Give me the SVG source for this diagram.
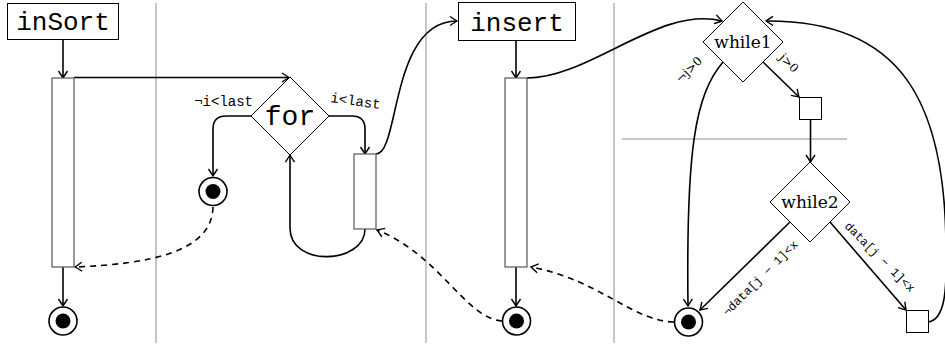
<svg xmlns="http://www.w3.org/2000/svg" width="945" height="345" viewBox="0 0 945 345">
  <style>
    .lane { stroke: #c6c6c6; stroke-width: 2; fill: none; }
    .node { fill: #fff; stroke: #000; stroke-width: 1; }
    .bar { fill: #fff; stroke: #555; stroke-width: 1.2; }
    .conn { fill: none; stroke: #000; stroke-width: 1.6; marker-end: url(#tip); }
    .dash { stroke-dasharray: 6 5; }
    .ring { fill: #fff; stroke: #000; stroke-width: 1.6; }
    .dot { fill: #000; }
    .tt { font-family: "Liberation Mono", "DejaVu Sans Mono", monospace; fill: #000; }
    .rm { font-family: "DejaVu Serif", "Liberation Serif", serif; fill: #000; }
    .title { font-size: 26px; text-anchor: middle; }
    .lbl { font-size: 14px; }
    .small { font-size: 12px; text-anchor: middle; }
  </style>
  <defs>
    <marker id="tip" viewBox="-9 -6 11 12" refX="0" refY="0" markerWidth="11" markerHeight="12" markerUnits="userSpaceOnUse" orient="auto">
      <path d="M-7,-4.5 Q-2,-1.2 0,0 Q-2,1.2 -7,4.5" fill="none" stroke="#000" stroke-width="1.4"/>
    </marker>
  </defs>

  <!-- swimlane separators -->
  <g id="lanes">
    <line class="lane" x1="156" y1="3" x2="156" y2="343"/>
    <line class="lane" x1="426" y1="3" x2="426" y2="343"/>
    <line class="lane" x1="614" y1="3" x2="614" y2="343"/>
    <line class="lane" x1="622" y1="139" x2="847" y2="139"/>
  </g>

  <g id="connectors">
    <!-- inSort -->
    <path class="conn" d="M63,39 L63,78"/>
    <path class="conn" d="M74,77.5 L289,77.5"/>
    <path class="conn" d="M63,267 L63,306"/>
    <path class="conn dash" d="M213,207 C212,252 150,264 75,267"/>
    <!-- for loop -->
    <path class="conn" d="M252,116 L226,116 Q213,116 213,129 L213,176"/>
    <path class="conn" d="M328,116 L352,116 Q365,116 365,129 L365,154"/>
    <path class="conn" d="M365,229 C365,264 290,268 290,228 L290,155"/>
    <path class="conn" d="M376,154 C400,154 390,21 457,21"/>
    <path class="conn dash" d="M502,321 C465,318 440,255 377,230"/>
    <!-- insert -->
    <path class="conn" d="M516,40 L516,78"/>
    <path class="conn" d="M516,267 L516,306"/>
    <path class="conn" d="M527,78 C590,78 660,5 722,21"/>
    <path class="conn dash" d="M674,322 C632,321 600,280 531,267"/>
    <!-- while loops -->
    <path class="conn" d="M763,62 L799,97"/>
    <path class="conn" d="M723,62 C695,95 686,150 688,306"/>
    <path class="conn" d="M810.5,120 L810.5,162"/>
    <path class="conn" d="M790,222 L700,310"/>
    <path class="conn" d="M830,222 L906,310"/>
    <path class="conn" d="M928,322 C945,320 947,290 946,250 C946,100 900,20 766,21"/>
  </g>

  <g id="inSort">
    <rect class="node" x="7.5" y="3.5" width="111" height="36"/>
    <text class="tt title" x="63" y="30">inSort</text>
  </g>
  <g id="bar-inSort">
    <rect class="bar" x="52" y="78" width="22" height="189"/>
  </g>
  <g id="end-inSort">
    <circle class="ring" cx="63" cy="321" r="14"/>
    <circle class="dot" cx="63" cy="321" r="7.5"/>
  </g>

  <g id="for">
    <polygon class="node" points="290,77 329,116 290,155 251,116"/>
    <text class="tt" x="290" y="125" font-size="28" text-anchor="middle">for</text>
  </g>
  <g id="end-for">
    <circle class="ring" cx="213" cy="191.5" r="14"/>
    <circle class="dot" cx="213" cy="191.5" r="7.5"/>
  </g>
  <g id="bar-for">
    <rect class="bar" x="354" y="154" width="22" height="75"/>
  </g>
  <g id="for-labels">
    <text class="tt lbl" x="253" y="106" text-anchor="end">¬i&lt;last</text>
    <text class="tt lbl" transform="translate(330,102) rotate(8)">i&lt;last</text>
  </g>

  <g id="insert">
    <rect class="node" x="458.5" y="2.5" width="117" height="38"/>
    <text class="tt title" x="517" y="31">insert</text>
  </g>
  <g id="bar-insert">
    <rect class="bar" x="505" y="78" width="22" height="189"/>
  </g>
  <g id="end-insert">
    <circle class="ring" cx="516.5" cy="321" r="14"/>
    <circle class="dot" cx="516.5" cy="321" r="7.5"/>
  </g>

  <g id="while1">
    <polygon class="node" points="743,2 783,42 743,82 703,42"/>
    <text class="rm" x="743" y="48" font-size="17" text-anchor="middle">while1</text>
  </g>
  <g id="step1">
    <rect class="node" x="799.5" y="97.5" width="22" height="22"/>
  </g>
  <g id="while2">
    <polygon class="node" points="810,162 850,202 810,242 770,202"/>
    <text class="rm" x="810" y="208" font-size="17" text-anchor="middle">while2</text>
  </g>
  <g id="step2">
    <rect class="node" x="906.5" y="310.5" width="22" height="22"/>
  </g>
  <g id="end-insert-loop">
    <circle class="ring" cx="688.5" cy="322" r="14"/>
    <circle class="dot" cx="688.5" cy="322" r="7.5"/>
  </g>
  <g id="while-labels">
    <text class="rm small" font-size="13" transform="translate(789,63) rotate(45)" y="4">j&gt;0</text>
    <text class="rm small" font-size="13" transform="translate(689,70) rotate(-45)" y="4">¬j&gt;0</text>
    <text class="tt small" transform="translate(760,278) rotate(-45)" y="4">¬data[j − 1]&lt;x</text>
    <text class="tt small" transform="translate(880,257) rotate(45)" y="4">data[j − 1]&lt;x</text>
  </g>
</svg>
